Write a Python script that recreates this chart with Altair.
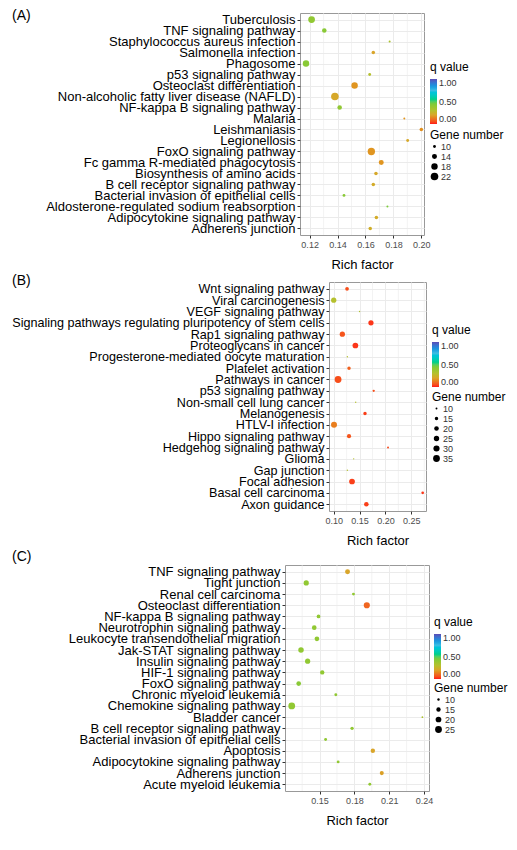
import altair as alt
import pandas as pd

FONT = "Liberation Sans"

# ---------------- Panel A ----------------
a_terms = ["Tuberculosis", "TNF signaling pathway", "Staphylococcus aureus infection",
           "Salmonella infection", "Phagosome", "p53 signaling pathway",
           "Osteoclast differentiation", "Non-alcoholic fatty liver disease (NAFLD)",
           "NF-kappa B signaling pathway", "Malaria", "Leishmaniasis", "Legionellosis",
           "FoxO signaling pathway", "Fc gamma R-mediated phagocytosis",
           "Biosynthesis of amino acids", "B cell receptor signaling pathway",
           "Bacterial invasion of epithelial cells", "Aldosterone-regulated sodium reabsorption",
           "Adipocytokine signaling pathway", "Adherens junction"]
a_rich = [0.1214, 0.1305, 0.1773, 0.1656, 0.1174, 0.1630, 0.1522, 0.1381, 0.1415, 0.1878,
          0.2000, 0.1902, 0.1642, 0.1713, 0.1675, 0.1656, 0.1446, 0.1757, 0.1678, 0.1634]
a_genes = [19, 13, 9, 11, 18, 10, 18, 22, 13, 9, 11, 10, 21, 14, 11, 11, 10, 9, 11, 11]
a_q = [0.40, 0.42, 0.33, 0.20, 0.42, 0.30, 0.17, 0.21, 0.40, 0.17,
       0.16, 0.21, 0.17, 0.17, 0.21, 0.22, 0.42, 0.45, 0.22, 0.23]
a_ticks = [0.12, 0.14, 0.16, 0.18, 0.20]
a_minor = [0.13, 0.15, 0.17, 0.19]
a_domain = [0.1131, 0.2019]
a_size_breaks = [10, 14, 18, 22]

# ---------------- Panel B ----------------
b_terms = ["Wnt signaling pathway", "Viral carcinogenesis", "VEGF signaling pathway",
           "Signaling pathways regulating pluripotency of stem cells", "Rap1 signaling pathway",
           "Proteoglycans in cancer", "Progesterone-mediated oocyte maturation",
           "Platelet activation", "Pathways in cancer", "p53 signaling pathway",
           "Non-small cell lung cancer", "Melanogenesis", "HTLV-I infection",
           "Hippo signaling pathway", "Hedgehog signaling pathway", "Glioma", "Gap junction",
           "Focal adhesion", "Basal cell carcinoma", "Axon guidance"]
b_rich = [0.1258, 0.1000, 0.1500, 0.1720, 0.1167, 0.1419, 0.1264, 0.1296, 0.1084, 0.1773,
          0.1425, 0.1605, 0.1006, 0.1296, 0.2050, 0.1386, 0.1264, 0.1354, 0.2720, 0.1631]
b_genes = [16, 24, 9, 24, 24, 27, 9, 15, 35, 11, 9, 15, 29, 18, 10, 9, 9, 27, 12, 20]
b_q = [0.05, 0.30, 0.32, 0.02, 0.06, 0.02, 0.30, 0.08, 0.05, 0.05,
       0.30, 0.03, 0.13, 0.06, 0.04, 0.30, 0.30, 0.03, 0.02, 0.03]
b_ticks = [0.10, 0.15, 0.20, 0.25]
b_minor = [0.125, 0.175, 0.225, 0.275]
b_domain = [0.0909, 0.2784]
b_size_breaks = [10, 15, 20, 25, 30, 35]

# ---------------- Panel C ----------------
c_terms = ["TNF signaling pathway", "Tight junction", "Renal cell carcinoma",
           "Osteoclast differentiation", "NF-kappa B signaling pathway",
           "Neurotrophin signaling pathway", "Leukocyte transendothelial migration",
           "Jak-STAT signaling pathway", "Insulin signaling pathway", "HIF-1 signaling pathway",
           "FoxO signaling pathway", "Chronic myeloid leukemia", "Chemokine signaling pathway",
           "Bladder cancer", "B cell receptor signaling pathway",
           "Bacterial invasion of epithelial cells", "Apoptosis",
           "Adipocytokine signaling pathway", "Adherens junction", "Acute myeloid leukemia"]
c_rich = [0.1741, 0.1385, 0.1792, 0.1907, 0.1491, 0.1454, 0.1477, 0.1340, 0.1397, 0.1523,
          0.1320, 0.1640, 0.1260, 0.2386, 0.1780, 0.1552, 0.1959, 0.1660, 0.2036, 0.1933]
c_genes = [17, 18, 11, 22, 13, 16, 16, 19, 18, 15, 16, 11, 25, 9, 12, 11, 15, 11, 14, 11]
c_q = [0.20, 0.40, 0.40, 0.09, 0.40, 0.40, 0.40, 0.40, 0.40, 0.40,
       0.42, 0.40, 0.40, 0.33, 0.40, 0.40, 0.20, 0.40, 0.19, 0.40]
c_ticks = [0.15, 0.18, 0.21, 0.24]
c_minor = [0.135, 0.165, 0.195, 0.225]
c_domain = [0.1202, 0.2443]
c_size_breaks = [10, 15, 20, 25]

q_stops = [0.0, 0.10, 0.20, 0.30, 0.45, 0.75, 1.0]
q_colors = ["#FF1A1A", "#EE6A22", "#D9A52A", "#B5C02E", "#7CCB3B", "#3FBDE3", "#5A4DB5"]


def indep(ch):
    return ch.resolve_scale(color="independent", size="independent").resolve_legend(
        color="independent", size="independent")


def panel(label, terms, rich, genes, q, ticks, minor, domain, size_breaks, size_range,
          width, height, extent, label_size, legend_x, q_y, g_y, tag_y):
    df = pd.DataFrame({"term": terms, "rich": rich, "genes": genes, "q": q})
    mdf = pd.DataFrame({"v": minor})
    tdf = pd.DataFrame({"tag": [label]})
    xscale = alt.Scale(domain=domain, zero=False, nice=False)
    xaxis = alt.Axis(values=ticks, format=".2f", title="Rich factor",
                     labelFontSize=9, labelColor="#4D4D4D", tickColor="#333333",
                     tickSize=3, labelPadding=2, titleFontSize=13,
                     titleFontWeight="normal", titleColor="black", titlePadding=9,
                     grid=True, gridColor="#EBEBEB", domain=False)

    rules = alt.Chart(mdf).mark_rule(color="#EBEBEB", strokeWidth=0.6).encode(
        x=alt.X("v:Q", scale=xscale, axis=xaxis)
    )
    pts = alt.Chart(df).mark_circle(opacity=1).encode(
        x=alt.X("rich:Q", scale=xscale, axis=xaxis),
        y=alt.Y("term:N", sort=terms, scale=alt.Scale(type="point", padding=0.6),
                axis=alt.Axis(title=None, labelFontSize=label_size, labelLimit=500,
                              labelColor="black", tickColor="#333333", tickSize=3,
                              labelPadding=2, minExtent=extent, maxExtent=extent,
                              grid=True, gridColor="#EBEBEB", domain=False)),
        color=alt.Color("q:Q", scale=alt.Scale(domain=q_stops, range=q_colors),
                        legend=alt.Legend(title="q value", orient="none", legendX=legend_x,
                                          legendY=q_y, direction="vertical", offset=0,
                                          padding=0,
                                          gradientLength=45, gradientThickness=7,
                                          gradientStrokeWidth=0, values=[0, 0.25, 0.5, 0.75, 1],
                                          format=".2f", labelFontSize=9, labelColor="#333333",
                                          labelBaseline="middle", labelOffset=2,
                                          titleFontSize=12, titleFontWeight="normal",
                                          titleColor="black", titlePadding=5)),
        size=alt.Size("genes:Q", scale=alt.Scale(domain=[min(genes), max(genes)],
                                                 range=size_range, zero=False),
                      legend=alt.Legend(title="Gene number", orient="none", legendX=legend_x,
                                        legendY=g_y, values=size_breaks, symbolType="circle",
                                        offset=0, padding=0,
                                        symbolFillColor="black", symbolStrokeWidth=0,
                                        symbolOpacity=1, labelFontSize=9, labelColor="#333333",
                                        labelOffset=2, rowPadding=-1, titleFontSize=12,
                                        titleFontWeight="normal", titleColor="black",
                                        titlePadding=0)),
    )
    tag = alt.Chart(tdf).mark_text(align="left", baseline="middle", fontSize=14,
                                   color="black").encode(
        text="tag:N", x=alt.value(-extent), y=alt.value(tag_y)
    )
    main = alt.layer(rules, pts, tag).properties(width=width, height=height)
    spacer = alt.Chart(tdf).mark_point(opacity=0, size=0, strokeWidth=0).encode(
        x=alt.value(0), y=alt.value(0)
    ).properties(width=1, height=1, view=alt.ViewBackground(stroke="transparent"))
    return indep(alt.hconcat(spacer, main, spacing=0))


pa = panel("(A)", a_terms, a_rich, a_genes, a_q, a_ticks, a_minor, a_domain, a_size_breaks,
           [4, 58], 124, 222, 288, 13, 130, 49, 117, 3)
pb = panel("(B)", b_terms, b_rich, b_genes, b_q, b_ticks, b_minor, b_domain, b_size_breaks,
           [2, 46], 97, 229, 317, 12.6, 103, 43, 110, -1)
pc = panel("(C)", c_terms, c_rich, c_genes, c_q, c_ticks, c_minor, c_domain, c_size_breaks,
           [3, 46], 144, 226, 273, 13, 149, 52, 118, -8)

chart = indep(alt.vconcat(pa, pb, pc, spacing=1)).properties(
    padding=0
).configure(font=FONT).configure_view(stroke="#999999", strokeWidth=1)

chart.save("out.html", embed_options={"renderer": "svg", "actions": False})
